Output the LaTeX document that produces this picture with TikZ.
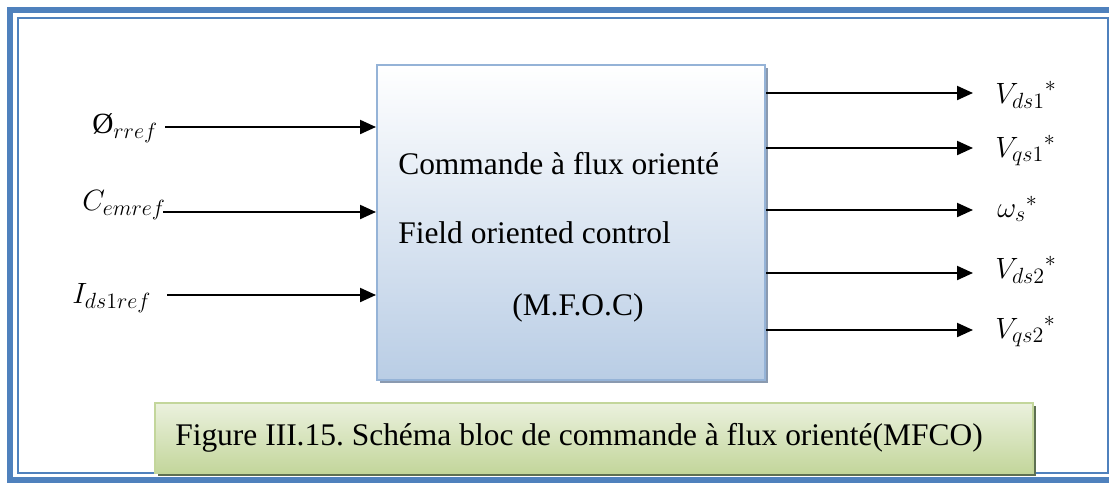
\RequirePackage{fix-cm}
\documentclass[tikz,border=0pt]{standalone}
\usepackage{fontspec}
\setmainfont{Liberation Serif}
\usetikzlibrary{arrows.meta,shadows}
\DeclareMathSizes{22}{22}{16.5}{12}
\definecolor{frameblue}{HTML}{4F81BD}
\definecolor{edgeblue}{HTML}{95B3D7}
\definecolor{fillblue}{HTML}{B9CDE5}
\definecolor{shadowblue}{HTML}{8A9AB0}
\definecolor{capgreen}{HTML}{C3D69B}
\definecolor{caplight}{HTML}{EBF1DE}
\definecolor{capshadow}{HTML}{5E7052}
\frenchspacing
\begin{document}
\begin{tikzpicture}[x=0.75pt,y=-0.75pt,
  sig/.style={-{Triangle[length=12pt,width=10.5pt]},line width=1.6pt},
  lab/.style={inner sep=0pt,anchor=base west,font=\fontsize{22}{26}\selectfont},
  body/.style={inner sep=0pt,anchor=base west,font=\fontsize{23.6}{28}\selectfont},
  blockbox/.style={draw=edgeblue,line width=1.5pt,top color=white,bottom color=fillblue,
    inner sep=0pt,drop shadow={shadow xshift=2.5pt,shadow yshift=-2.5pt,fill=shadowblue,opacity=1}},
  capbox/.style={draw=capgreen,line width=1.5pt,top color=caplight,bottom color=capgreen,
    inner sep=0pt,drop shadow={shadow xshift=2.5pt,shadow yshift=-2.5pt,fill=capshadow,opacity=1}},
]
\useasboundingbox (0,0) rectangle (1109,482);

% page frame: thick outer border and thin inner border
\begin{scope}
  \clip (0,0) rectangle (1109,482);
  \draw[frameblue,line width=4.5pt] (10,10) rectangle (1120,480);
\end{scope}
\draw[frameblue,line width=1.5pt] (18,18) rectangle (1108,473);

% control block
\node[blockbox,minimum width=291pt,minimum height=236.25pt] (blk) at (571,222.5) {};
\node[body] (t1) at (398,174) {Commande à flux orienté};
\node[body] (t2) at (398,243) {Field oriented control};
\node[body] (t3) at (512,315) {(M.F.O.C)};

% inputs
\node[lab] (l1) at (92,133) {\O$_{rref}$};
\node[lab] (l2) at (82,210) {$C_{emref}$};
\node[lab] (l3) at (72,303) {$I_{ds1ref}$};
\coordinate (i1) at (165,127);
\coordinate (i2) at (163,212);
\coordinate (i3) at (167,295);
\draw[sig] (i1) -- (i1 -| blk.west);
\draw[sig] (i2) -- (i2 -| blk.west);
\draw[sig] (i3) -- (i3 -| blk.west);

% outputs
\coordinate (o1) at (973,93);
\coordinate (o2) at (973,148);
\coordinate (o3) at (973,210);
\coordinate (o4) at (973,273);
\coordinate (o5) at (973,330);
\draw[sig] (o1 -| blk.east) -- (o1);
\draw[sig] (o2 -| blk.east) -- (o2);
\draw[sig] (o3 -| blk.east) -- (o3);
\draw[sig] (o4 -| blk.east) -- (o4);
\draw[sig] (o5 -| blk.east) -- (o5);
\node[lab] (r1) at (995,103) {${V_{ds1}}^{*}$};
\node[lab] (r2) at (995,157) {${V_{qs1}}^{*}$};
\node[lab] (r3) at (997,217) {${\omega_{s}}^{*}$};
\node[lab] (r4) at (995,278) {${V_{ds2}}^{*}$};
\node[lab] (r5) at (995,338) {${V_{qs2}}^{*}$};

% caption
\node[capbox,minimum width=658.5pt,minimum height=52.5pt] (cap) at (594,438) {};
\node[body] (captxt) at (175,445) {Figure III.15. Schéma bloc de commande à flux orienté(MFCO)};
\end{tikzpicture}
\end{document}
